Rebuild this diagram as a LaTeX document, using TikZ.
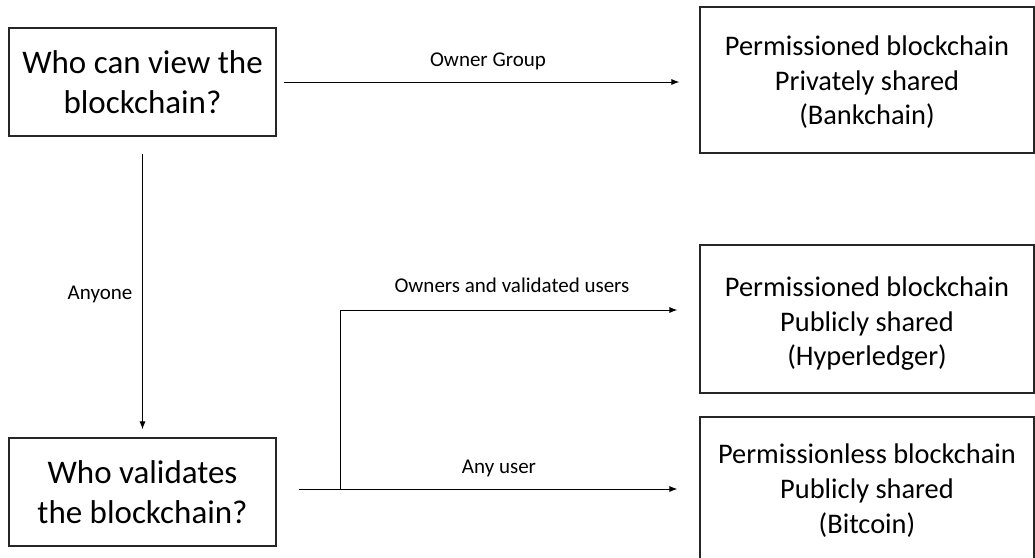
\documentclass[tikz,border=0pt]{standalone}
\usepackage{fontspec}
\setmainfont{Carlito}
\usetikzlibrary{arrows.meta,calc}
\begin{document}
\begin{tikzpicture}[x=1pt,y=-1pt,
  question/.style={draw=black!85,line width=1.1pt,minimum width=267pt,minimum height=108pt,
    align=center,font=\fontsize{33}{40}\selectfont,inner sep=0pt},
  outcome/.style={draw=black!85,line width=1.1pt,minimum width=334pt,
    align=center,font=\fontsize{28.4}{35}\selectfont,inner sep=0pt},
  flow/.style={draw=black,line width=1pt,-{Latex[length=8pt,width=6pt]}},
  plain/.style={draw=black,line width=1pt},
  lbl/.style={font=\fontsize{21}{24}\selectfont,inner sep=0pt}]
\useasboundingbox (0,0) rectangle (1035,557);
\begin{scope}
\clip (0,0) rectangle (1035,557);
% decision boxes
\node[question] (view) at (142.5,82) {Who can view the\\blockchain?};
\node[question] (valid) at (142.5,492) {Who validates\\the blockchain?};
% outcome boxes
\node[outcome,minimum height=146pt] (bank) at (867,80)
  {\raisebox{-3pt}[\height][\depth]{\begin{tabular}{@{}c@{}}Permissioned blockchain\\[-0.5pt]Privately shared\\[-0.5pt](Bankchain)\end{tabular}}};
\node[outcome,minimum height=148pt] (hyper) at (867,319)
  {\raisebox{-5pt}[\height][\depth]{\begin{tabular}{@{}c@{}}Permissioned blockchain\\[-0.5pt]Publicly shared\\[-0.5pt](Hyperledger)\end{tabular}}};
\node[outcome,minimum height=148pt] (btc) at (867,491)
  {Permissionless blockchain\\Publicly shared\\(Bitcoin)};
\end{scope}
% connectors
\draw[flow] ([xshift=7pt]view.east) -- ([xshift=-20pt]bank.west |- view.east);
\draw[flow] ([yshift=-17pt]view.south) -- ([yshift=8pt]valid.north);
\coordinate (split) at (340,489);
\draw[plain] ([xshift=22pt,yshift=3pt]valid.east) -- (split);
\draw[flow] (split) -- ([xshift=-22pt]btc.west |- split);
\draw[flow] (split) -- (340,310) -- ([xshift=-22pt]hyper.west |- 340,310);
% connector labels
\node[lbl] (lowner) at (488,61) {Owner Group};
\node[lbl] (lanyone) at (100,294) {Anyone};
\node[lbl] (lvalid) at (512,285) {Owners and validated users};
\node[lbl] (lany) at (499,468) {Any user};
\end{tikzpicture}
\end{document}
